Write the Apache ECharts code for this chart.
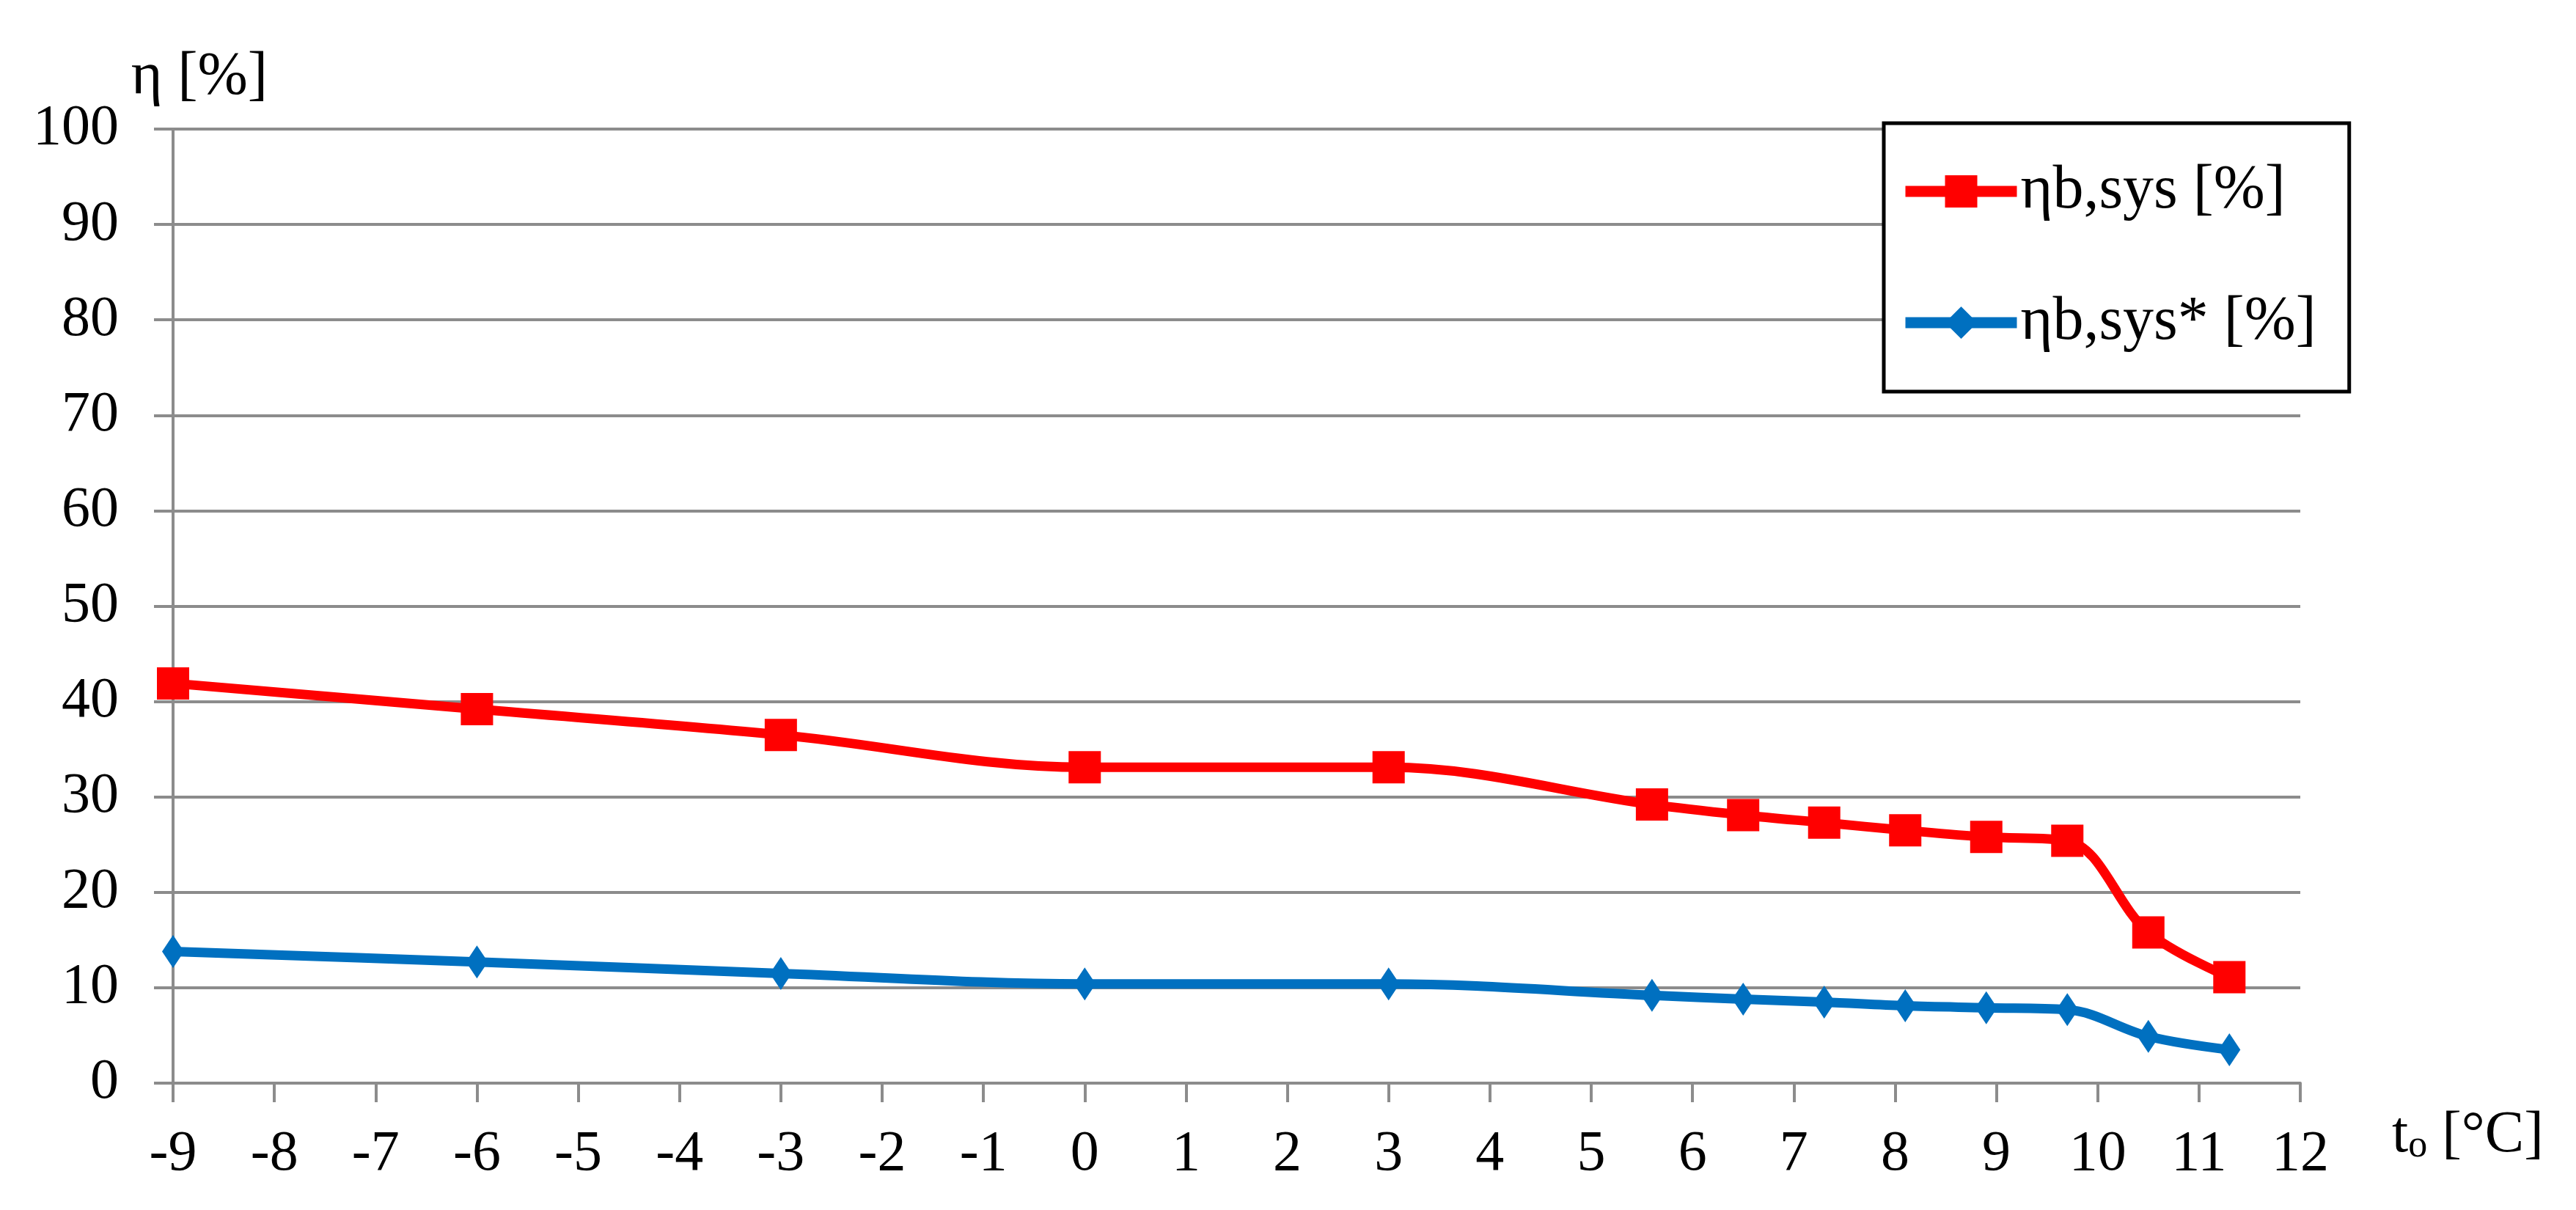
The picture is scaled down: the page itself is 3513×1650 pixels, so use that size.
<!DOCTYPE html>
<html>
<head>
<meta charset="utf-8">
<script src="https://cdn.jsdelivr.net/npm/echarts@6/dist/echarts.min.js"></script>
<style>
  html, body { margin: 0; padding: 0; background: #fff; }
  #chart { width: 3513px; height: 1650px; }
</style>
</head>
<body>
<div id="chart"></div>
<script>
// ---- data ----
const temps = [-9, -6, -3, 0, 3, 5.6, 6.5, 7.3, 8.1, 8.9, 9.7, 10.5, 11.3];
const etaSys = [41.9, 39.2, 36.5, 33.1, 33.1, 29.2, 28.1, 27.3, 26.5, 25.8, 25.4, 15.8, 11.1];
const etaSysStar = [13.8, 12.7, 11.5, 10.4, 10.4, 9.2, 8.8, 8.5, 8.1, 7.9, 7.7, 4.9, 3.5];
const seriesNames = ['ηb,sys [%]', 'ηb,sys* [%]'];
const xTicks = { min: -9, max: 12, interval: 1 };
const yTicks = { min: 0, max: 100, interval: 10 };

const FONT = "'Liberation Serif', 'Times New Roman', serif";
const GRAY = '#8c8c8c';

const chart = echarts.init(document.getElementById('chart'), null, { renderer: 'canvas' });

const option = {
  animation: false,
  backgroundColor: '#ffffff',
  grid: { left: 236, right: 376, top: 176, bottom: 173, containLabel: false, outerBoundsMode: 'none' },
  xAxis: {
    type: 'value',
    min: xTicks.min, max: xTicks.max, interval: xTicks.interval,
    name: '{t|t}{s|o}{t| [°C]}',
    nameLocation: 'end',
    nameGap: 125,
    nameTextStyle: {
      align: 'left', verticalAlign: 'top', padding: [32, 0, 0, 0],
      rich: {
        t: { fontFamily: FONT, fontSize: 80, color: '#000' },
        s: { fontFamily: FONT, fontSize: 52, color: '#000', verticalAlign: 'bottom' }
      }
    },
    axisLine: { show: true, onZero: false, lineStyle: { color: GRAY, width: 4 } },
    axisTick: { show: true, inside: false, length: 26, lineStyle: { color: GRAY, width: 4 } },
    splitLine: { show: false },
    axisLabel: { fontFamily: FONT, fontSize: 78, color: '#000', margin: 59 }
  },
  yAxis: {
    type: 'value',
    min: yTicks.min, max: yTicks.max, interval: yTicks.interval,
    name: 'η [%]',
    nameLocation: 'end',
    nameGap: 30,
    nameTextStyle: { fontFamily: FONT, fontSize: 82, color: '#000', align: 'center', padding: [0, 0, 0, 72] },
    axisLine: { show: true, onZero: false, lineStyle: { color: GRAY, width: 4 } },
    axisTick: { show: true, inside: false, length: 26, lineStyle: { color: GRAY, width: 4 } },
    splitLine: { show: true, lineStyle: { color: GRAY, width: 4 } },
    axisLabel: { fontFamily: FONT, fontSize: 78, color: '#000', margin: 74 }
  },
  legend: {
    orient: 'vertical',
    left: 2569, top: 168,
    padding: [51, 45, 52, 22],
    itemGap: 95,
    itemWidth: 152,
    itemHeight: 55,
    backgroundColor: '#ffffff',
    borderColor: '#000000',
    borderWidth: 5,
    borderRadius: 0,
    lineStyle: { width: 15 },
    textStyle: { fontFamily: FONT, fontSize: 84, color: '#000' },
    data: seriesNames
  },
  series: [
    {
      name: seriesNames[0],
      type: 'line',
      data: temps.map((t, i) => [t, etaSys[i]]),
      smooth: 0.35,
      symbol: 'rect',
      symbolSize: 44,
      itemStyle: { color: '#ff0000' },
      lineStyle: { color: '#ff0000', width: 13 },
      z: 3
    },
    {
      name: seriesNames[1],
      type: 'line',
      data: temps.map((t, i) => [t, etaSysStar[i]]),
      smooth: 0.35,
      symbol: 'diamond',
      symbolSize: [30, 45],
      itemStyle: { color: '#0070c0' },
      lineStyle: { color: '#0070c0', width: 13 },
      z: 2
    }
  ]
};
chart.setOption(option);
</script>
</body>
</html>
